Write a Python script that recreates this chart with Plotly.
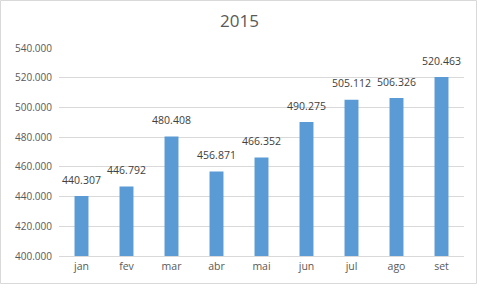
import plotly.graph_objects as go

months = ["jan", "fev", "mar", "abr", "mai", "jun", "jul", "ago", "set"]
values = [440307, 446792, 480408, 456871, 466352, 490275, 505112, 506326, 520463]
tick_vals = [400000, 420000, 440000, 460000, 480000, 500000, 520000, 540000]
tick_text = ["400.000", "420.000", "440.000", "460.000", "480.000", "500.000", "520.000", "540.000"]
labels = [f"{v:,}".replace(",", ".") for v in values]

W, H = 479, 288
L, R, T, B = 59, 15, 48, 32
pw, ph = W - L - R, H - T - B
FONT = "Open Sans, Liberation Sans, sans-serif"

def px(x):
    return (x - L) / pw

def py(y):
    return (H - B - y) / ph

fig = go.Figure()
fig.add_trace(go.Bar(
    x=months, y=values,
    marker=dict(color="#5b9bd5", line=dict(width=0)),
    hoverinfo="skip",
))
fig.add_trace(go.Scatter(
    x=months, y=values, text=labels, mode="markers+text", textposition="top center",
    marker=dict(size=14, color="rgba(0,0,0,0)"),
    textfont=dict(family=FONT, size=10.5, color="#404040"),
    cliponaxis=False, hoverinfo="skip",
))

fig.update_layout(
    width=W, height=H,
    margin=dict(l=L, r=R, t=T, b=B),
    paper_bgcolor="white", plot_bgcolor="white",
    bargap=0.69,
    showlegend=False,
    title=dict(text="2015", x=0.5, xanchor="center", y=1 - 21 / H, yanchor="middle",
               font=dict(family=FONT, size=17, color="#595959")),
    font=dict(family=FONT, size=10, color="#595959"),
    xaxis=dict(range=[-0.5, len(months) - 0.5], showgrid=False, showline=True,
               linecolor="#d9d9d9", linewidth=1,
               ticks="", tickfont=dict(size=10.5, color="#595959")),
    yaxis=dict(range=[400000, 540000], tickvals=tick_vals, ticktext=tick_text,
               showgrid=True, gridcolor="#d9d9d9", gridwidth=1, zeroline=False,
               showline=False, ticks="", ticklabelstandoff=6,
               tickfont=dict(size=10, color="#595959")),
    shapes=[dict(type="rect", xref="paper", yref="paper",
                 x0=px(0.5), x1=px(476.5), y0=py(0.5), y1=py(283.5),
                 line=dict(color="#d9d9d9", width=1), fillcolor="rgba(0,0,0,0)", layer="below")],
)

fig.write_html("out.html")
